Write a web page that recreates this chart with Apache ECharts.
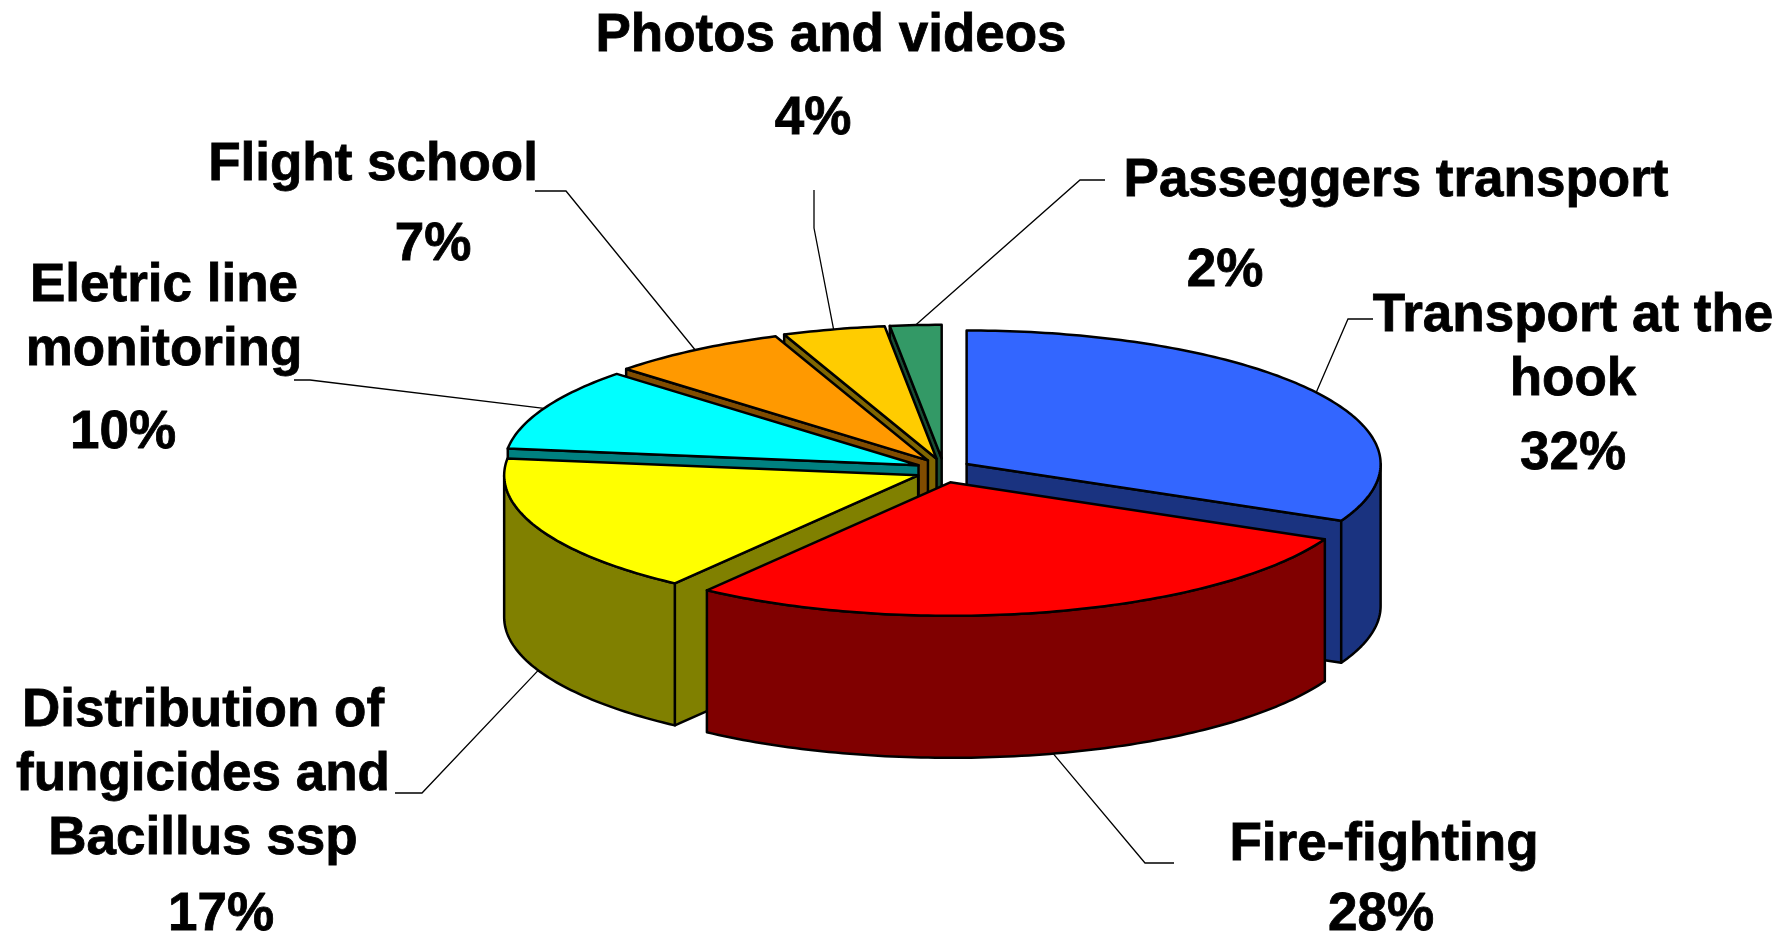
<!DOCTYPE html>
<html>
<head>
<meta charset="utf-8">
<style>html,body{margin:0;padding:0;background:#fff}#c{width:1787px;height:935px}</style>
<script src="https://cdn.jsdelivr.net/npm/echarts@6/dist/echarts.min.js"></script>
</head>
<body>
<div id="c"></div>
<script>
const categories = ['Transport at the\nhook','Fire-fighting','Distribution of\nfungicides and\nBacillus ssp','Eletric line\nmonitoring','Flight school','Photos and videos','Passeggers transport'];
const values = [32,28,17,10,7,4,2];
const topColors = ['#3366FF','#FF0000','#FFFF00','#00FFFF','#FF9900','#FFCC00','#339966'];
const sideColors = ['#1A3380','#800000','#808000','#008080','#804C00','#806600','#1A4D33'];

// Projection of the pie
const pie = {cx:943.4, cy:470.5, a:414, b:133.5, depth:142, explode:27.5, explodeY:0.443};
// Label placement: name centre, value centre, leader knots
const nameCentre = [[1573,348],[1384,845],[203,775],[164,318],[373,165],[831,36],[1396,181]];
const valueCentre = [[1573,454],[1381,915],[221,915],[123,433],[433,245],[813,119],[1225,271]];
const leaderKnots = [
  [[1348,319],[1373,319]],
  [[1145,863],[1174,863]],
  [[422,793],[395,793]],
  [[310,380],[294,380]],
  [[566,191],[535,191]],
  [[814,228],[814,190]],
  [[1080,180],[1105,180]]
];

const total = values.reduce((s,v)=>s+v,0);
const rad = d => d*Math.PI/180;
const starts = [];
values.reduce((s,v,i)=>{starts[i]=s;return s+v/total*360;},0);

function geometry(i){
  const start = starts[i], end = start+values[i]/total*360, mid=(start+end)/2;
  const ox = pie.cx+pie.explode*Math.sin(rad(mid));
  const oy = pie.cy-pie.explode*pie.explodeY*Math.cos(rad(mid));
  const at = (d,dz)=>[ox+pie.a*Math.sin(rad(d)), oy-pie.b*Math.cos(rad(d))+(dz||0)];
  return {start,end,mid,ox,oy,at};
}
function arc(g,from,to,dz){
  const n=Math.max(2,Math.ceil(Math.abs(to-from)));
  const pts=[];
  for(let k=0;k<=n;k++) pts.push(g.at(from+(to-from)*k/n,dz));
  return pts;
}
// back-to-front rank, from where the exploded slice sits
const order = values.map((_,i)=>i).sort((p,q)=>geometry(p).oy-geometry(q).oy);

function renderItem(params){
  const i=params.dataIndex, g=geometry(i), rank=order.indexOf(i)+1;
  const lineStyle={stroke:'#000',lineWidth:2.5,lineJoin:'round'};
  const faces=[];
  const poly=(points,fill)=>({type:'polygon',z2:rank*10+faces.length,shape:{points},style:Object.assign({fill},lineStyle)});
  const side=sideColors[i], d=pie.depth;
  if(Math.sin(rad(g.end))>0.001){
    const e=g.at(g.end);
    faces.push(poly([[g.ox,g.oy],e,[e[0],e[1]+d],[g.ox,g.oy+d]],side));
  }
  if(Math.sin(rad(g.start))<-0.001){
    const e=g.at(g.start);
    faces.push(poly([[g.ox,g.oy],e,[e[0],e[1]+d],[g.ox,g.oy+d]],side));
  }
  const f=Math.max(g.start,90), t=Math.min(g.end,270);
  if(t>f){
    faces.push(poly(arc(g,f,t,0).concat(arc(g,t,f,d)),side));
  }
  faces.push(poly([[g.ox,g.oy]].concat(arc(g,g.start,g.end,0)),topColors[i]));

  const front=Math.cos(rad(g.mid))<0;
  const anchor=g.at(g.mid,front?d:0);
  const leader={type:'polyline',z2:1,shape:{points:[anchor].concat(leaderKnots[i])},style:{stroke:'#000',lineWidth:1.3,fill:null}};
  const txt=(x,y,text)=>({type:'text',z2:200,x,y,style:{text,fill:'#000',stroke:'#000',lineWidth:0.8,font:'bold 53px "Liberation Sans"',align:'center',verticalAlign:'middle',lineHeight:64}});
  return {type:'group',children:[leader].concat(faces,[
    txt(nameCentre[i][0],nameCentre[i][1],categories[i]),
    txt(valueCentre[i][0],valueCentre[i][1],values[i]+'%')
  ])};
}

const chart=echarts.init(document.getElementById('c'),null,{renderer:'canvas'});
chart.setOption({
  backgroundColor:'#fff',
  animation:false,
  series:[{type:'custom',coordinateSystem:'none',silent:true,renderItem,data:values.map((v,i)=>({name:categories[i],value:[v]}))}]
});
</script>
</body>
</html>
